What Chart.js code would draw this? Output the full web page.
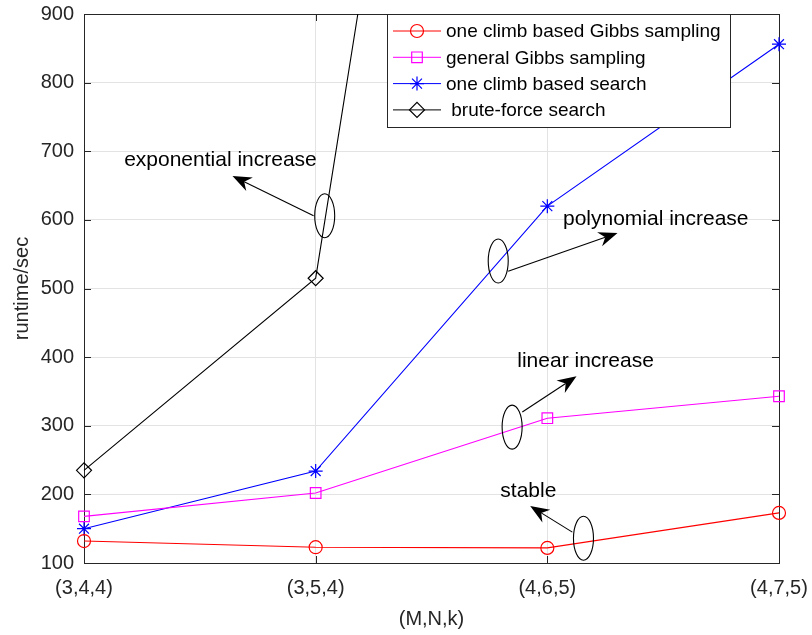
<!DOCTYPE html>
<html>
<head>
<meta charset="utf-8">
<script src="https://cdn.jsdelivr.net/npm/chart.js@4/dist/chart.umd.min.js"></script>
<style>
  html, body { margin: 0; padding: 0; background: #fff; }
  #wrap { width: 812px; height: 635px; }
</style>
</head>
<body>
<div id="wrap"><canvas id="c" width="812" height="635"></canvas></div>
<script>
// categories (M,N,k)
const categories = ['(3,4,4)', '(3,5,4)', '(4,6,5)', '(4,7,5)'];

// runtime in seconds
const oneClimbGibbs = [132, 123, 122, 173];
const generalGibbs = [168, 202, 311, 343];
const oneClimbSearch = [150, 234, 620, 856];
const bruteForce = [235, 515, 2630, 12000];

const yTicks = [100, 200, 300, 400, 500, 600, 700, 800, 900];

// annotations in data space (x = category index, y = runtime)
const notes = [
  { text: 'exponential increase', tx: 0.589, ty: 687, ex: 1.039, ey: 606, ax0: 0.991, ay0: 606, ax1: 0.641, ay1: 664 },
  { text: 'polynomial increase', tx: 2.468, ty: 601, ex: 1.788, ey: 540, ax0: 1.831, ay0: 525, ax1: 2.303, ay1: 581 },
  { text: 'linear increase', tx: 2.165, ty: 394, ex: 1.848, ey: 298, ax0: 1.892, ay0: 320, ax1: 2.126, ay1: 372 },
  { text: 'stable', tx: 1.918, ty: 205, ex: 2.156, ey: 136, ax0: 2.108, ay0: 145, ax1: 1.926, ay1: 183 }
];

const FONT = '"Liberation Sans", Arial, Helvetica, sans-serif';
const AXIS = '#262626';

function px(chart, xi, yv) {
  const xs = chart.scales.x, ys = chart.scales.y;
  const x0 = xs.getPixelForValue(0), x1 = xs.getPixelForValue(1);
  return [x0 + (x1 - x0) * xi, ys.getPixelForValue(yv)];
}

function arrow(ctx, x0, y0, x1, y1) {
  const ang = Math.atan2(y1 - y0, x1 - x0);
  const len = 19, half = 7.5, back = 13;
  const bx = x1 - Math.cos(ang) * back, by = y1 - Math.sin(ang) * back;
  ctx.beginPath();
  ctx.moveTo(x0, y0);
  ctx.lineTo(bx, by);
  ctx.stroke();
  const lx = x1 - Math.cos(ang) * len, ly = y1 - Math.sin(ang) * len;
  ctx.beginPath();
  ctx.moveTo(x1, y1);
  ctx.lineTo(lx - Math.sin(ang) * half, ly + Math.cos(ang) * half);
  ctx.lineTo(bx, by);
  ctx.lineTo(lx + Math.sin(ang) * half, ly - Math.cos(ang) * half);
  ctx.closePath();
  ctx.fill();
}

const decor = {
  id: 'decor',
  beforeDatasetsDraw(chart) {
    const { ctx, chartArea: a } = chart;
    ctx.save();
    ctx.strokeStyle = AXIS;
    ctx.lineWidth = 1;
    ctx.beginPath();
    ctx.moveTo(a.left, a.top + 0.5);
    ctx.lineTo(a.right + 0.5, a.top + 0.5);
    ctx.lineTo(a.right + 0.5, a.bottom);
    ctx.stroke();
    // inward ticks
    const ys = chart.scales.y, xs = chart.scales.x;
    ctx.beginPath();
    yTicks.forEach(v => {
      const y = Math.round(ys.getPixelForValue(v)) + 0.5;
      ctx.moveTo(a.left, y); ctx.lineTo(a.left + 7, y);
      ctx.moveTo(a.right, y); ctx.lineTo(a.right - 7, y);
    });
    categories.forEach((c, i) => {
      const x = Math.round(xs.getPixelForValue(i)) + 0.5;
      ctx.moveTo(x, a.bottom); ctx.lineTo(x, a.bottom - 7);
      ctx.moveTo(x, a.top); ctx.lineTo(x, a.top + 7);
    });
    ctx.stroke();
    ctx.restore();
  },
  afterDatasetsDraw(chart) {
    const { ctx } = chart;
    ctx.save();
    ctx.strokeStyle = '#000';
    ctx.fillStyle = '#000';
    ctx.lineWidth = 1.1;
    ctx.font = '21px ' + FONT;
    ctx.textAlign = 'center';
    ctx.textBaseline = 'middle';
    notes.forEach(n => {
      const [tx, ty] = px(chart, n.tx, n.ty);
      ctx.fillText(n.text, tx, ty);
      const [ex, ey] = px(chart, n.ex, n.ey);
      ctx.beginPath();
      ctx.ellipse(ex, ey, 10, 22, 0, 0, Math.PI * 2);
      ctx.stroke();
      const [a0x, a0y] = px(chart, n.ax0, n.ay0);
      const [a1x, a1y] = px(chart, n.ax1, n.ay1);
      arrow(ctx, a0x, a0y, a1x, a1y);
    });

    // legend box
    const L = { x: 387.5, y: 14.5, w: 343, h: 113 };
    ctx.fillStyle = '#fff';
    ctx.fillRect(L.x, L.y, L.w, L.h);
    ctx.lineWidth = 1;
    ctx.strokeStyle = AXIS;
    ctx.strokeRect(L.x, L.y, L.w, L.h);
    ctx.font = '19px ' + FONT;
    ctx.textAlign = 'left';
    chart.data.datasets.forEach((ds, i) => {
      const y = 31 + i * 26.3;
      ctx.strokeStyle = ds.borderColor;
      ctx.lineWidth = 1;
      ctx.beginPath();
      ctx.moveTo(393, y); ctx.lineTo(441, y);
      ctx.stroke();
      ctx.fillStyle = 'rgba(0,0,0,0)';
      ctx.lineWidth = 1.2;
      Chart.helpers.drawPoint(ctx, {
        pointStyle: ds.pointStyle, radius: ds.pointRadius, borderWidth: 1.2
      }, 417, y);
      ctx.fillStyle = '#000';
      ctx.fillText((i === 3 ? ' ' : '') + ds.label, 446, y + 1);
    });
    ctx.restore();
  }
};

function series(label, data, color, style, r) {
  return {
    label, data,
    borderColor: color,
    backgroundColor: 'rgba(0,0,0,0)',
    borderWidth: 1.1,
    pointStyle: style,
    pointRadius: r,
    pointHoverRadius: r,
    pointBorderColor: color,
    pointBackgroundColor: 'rgba(0,0,0,0)',
    pointBorderWidth: 1.2,
    tension: 0
  };
}

new Chart(document.getElementById('c'), {
  type: 'line',
  data: {
    labels: categories,
    datasets: [
      series('one climb based Gibbs sampling', oneClimbGibbs, '#ff0000', 'circle', 6.5),
      series('general Gibbs sampling', generalGibbs, '#ff00ff', 'rect', 7.5),
      series('one climb based search', oneClimbSearch, '#0000ff', 'star', 7),
      series('brute-force search', bruteForce, '#000000', 'rectRot', 7.5)
    ]
  },
  options: {
    responsive: false,
    animation: false,
    events: [],
    layout: { padding: { top: 14, right: 33, left: 0, bottom: 0 } },
    plugins: { legend: { display: false }, tooltip: { enabled: false } },
    scales: {
      x: {
        type: 'category',
        offset: false,
        afterFit: s => { s.height = 72; s.paddingLeft = 0; s.paddingRight = 0; },
        grid: { color: '#e3e3e3', drawTicks: false },
        border: { color: AXIS, width: 1 },
        ticks: { color: AXIS, padding: 13, font: { family: FONT, size: 20 }, maxRotation: 0 },
        title: { display: true, text: '(M,N,k)', color: AXIS, font: { family: FONT, size: 20 }, padding: { top: 4, bottom: 4 } }
      },
      y: {
        min: 100,
        max: 900,
        afterFit: s => { s.width = 84; s.paddingTop = 0; s.paddingBottom = 0; },
        afterBuildTicks: s => { s.ticks = yTicks.map(v => ({ value: v })); },
        grid: { color: '#e3e3e3', drawTicks: false },
        border: { color: AXIS, width: 1 },
        ticks: { color: AXIS, padding: 10, font: { family: FONT, size: 20 } },
        title: { display: true, text: 'runtime/sec', color: AXIS, font: { family: FONT, size: 20 }, padding: { top: 10, bottom: 4 } }
      }
    }
  },
  plugins: [decor]
});
</script>
</body>
</html>
